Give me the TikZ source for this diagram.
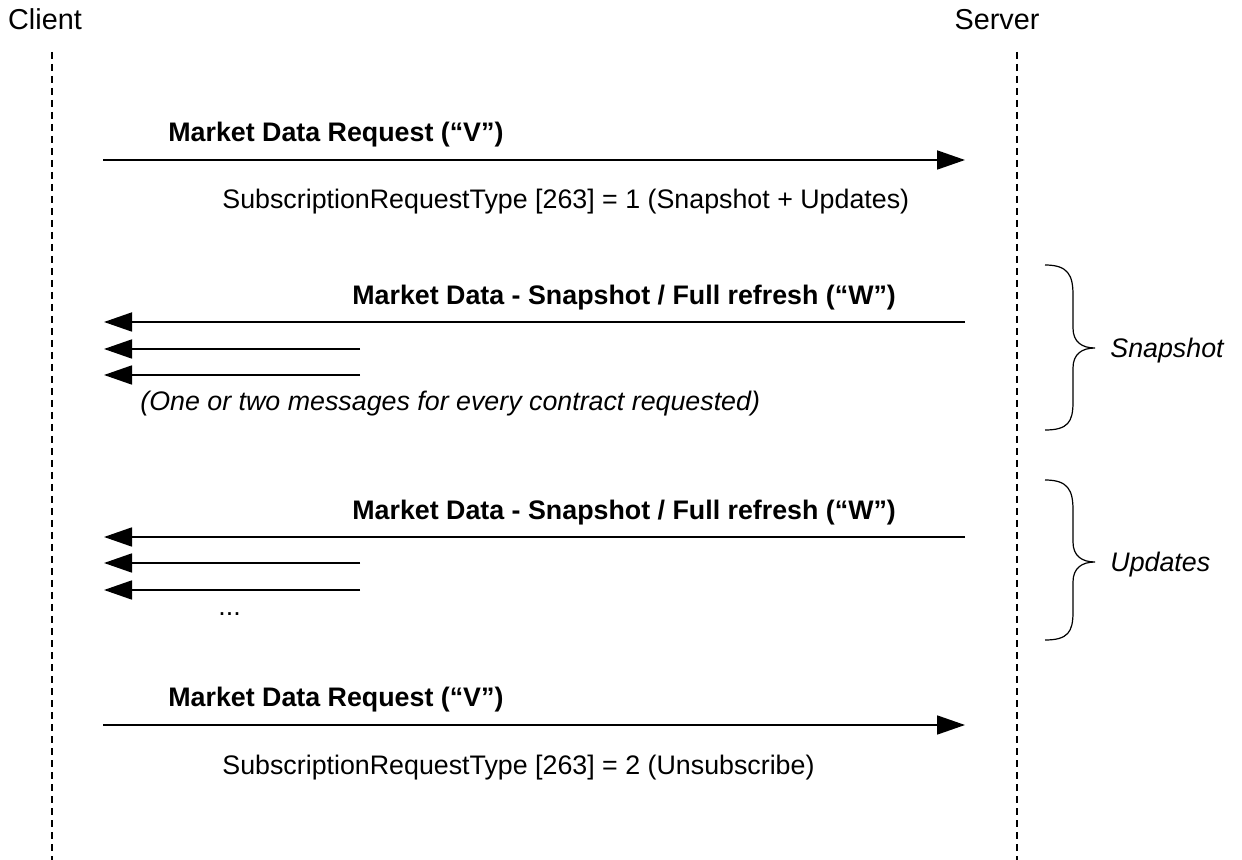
\documentclass[tikz,border=0pt]{standalone}
\usepackage{fontspec}
\setmainfont{Liberation Sans}
\usetikzlibrary{arrows.meta}
\begin{document}
\begin{tikzpicture}[x=0.5pt,y=-0.5pt,
    life/.style={line width=0.6pt,dash pattern=on 3.5pt off 2.5pt},
    msg/.style={line width=0.9pt,-{Triangle[length=14pt,width=9.5pt]}},
    head/.style={anchor=base,inner sep=0pt,font=\fontsize{14.4}{17}\selectfont},
    txt/.style={anchor=base west,inner sep=0pt,font=\fontsize{13.4}{16}\selectfont},
    bold/.style={txt,font=\fontsize{13.4}{16}\selectfont\bfseries},
    note/.style={txt,font=\fontsize{13.4}{16}\selectfont\itshape},
    brace/.style={line width=0.6pt}]
  \useasboundingbox (0,0) rectangle (1242,860);
  % actors and lifelines
  \node[head] (client) at (45,30) {Client};
  \node[head] (server) at (997,30) {Server};
  \coordinate (ctop) at (52,52);
  \coordinate (cbot) at (52,860);
  \coordinate (stop) at (1017,52);
  \coordinate (sbot) at (1017,860);
  \draw[life] (ctop) -- (cbot);
  \draw[life] (stop) -- (sbot);
  % subscribe
  \coordinate (c1) at (103,160);
  \coordinate (s1) at (965,160);
  \draw[msg] (c1) -- (s1);
  \node[bold] (req1) at (168,142) {Market Data Request (“V”)};
  \node[txt] (sub1) at (222,209) {SubscriptionRequestType [263] = 1 (Snapshot + Updates)};
  % snapshot
  \coordinate (s2) at (965,322);
  \coordinate (c2) at (104,322);
  \coordinate (m2a) at (360,349);
  \coordinate (c2a) at (104,349);
  \coordinate (m2b) at (360,375);
  \coordinate (c2b) at (104,375);
  \draw[msg] (s2) -- (c2);
  \draw[msg] (m2a) -- (c2a);
  \draw[msg] (m2b) -- (c2b);
  \node[bold] (snap1) at (352,305) {Market Data - Snapshot / Full refresh (“W”)};
  \node[note] (every) at (140,411) {(One or two messages for every contract requested)};
  \draw[brace] (1045,265) .. controls (1068,265) and (1073,275) .. (1073,295)
    -- (1073,328) .. controls (1073,342) and (1082,348) .. (1095,348)
    .. controls (1082,348) and (1073,354) .. (1073,368)
    -- (1073,402) .. controls (1073,422) and (1068,430) .. (1045,430);
  \node[note] (snap) at (1110,358) {Snapshot};
  % updates
  \coordinate (s3) at (965,537);
  \coordinate (c3) at (104,537);
  \coordinate (m3a) at (360,563);
  \coordinate (c3a) at (104,563);
  \coordinate (m3b) at (360,590);
  \coordinate (c3b) at (104,590);
  \draw[msg] (s3) -- (c3);
  \draw[msg] (m3a) -- (c3a);
  \draw[msg] (m3b) -- (c3b);
  \node[bold] (snap2) at (352,520) {Market Data - Snapshot / Full refresh (“W”)};
  \node[txt] (dots) at (218,616) {...};
  \draw[brace] (1045,480) .. controls (1068,480) and (1073,490) .. (1073,510)
    -- (1073,542) .. controls (1073,556) and (1082,562) .. (1095,562)
    .. controls (1082,562) and (1073,568) .. (1073,582)
    -- (1073,612) .. controls (1073,632) and (1068,640) .. (1045,640);
  \node[note] (upd) at (1110,572) {Updates};
  % unsubscribe
  \coordinate (c4) at (103,725);
  \coordinate (s4) at (965,725);
  \draw[msg] (c4) -- (s4);
  \node[bold] (req2) at (168,706) {Market Data Request (“V”)};
  \node[txt] (sub2) at (222,774) {SubscriptionRequestType [263] = 2 (Unsubscribe)};
\end{tikzpicture}
\end{document}
